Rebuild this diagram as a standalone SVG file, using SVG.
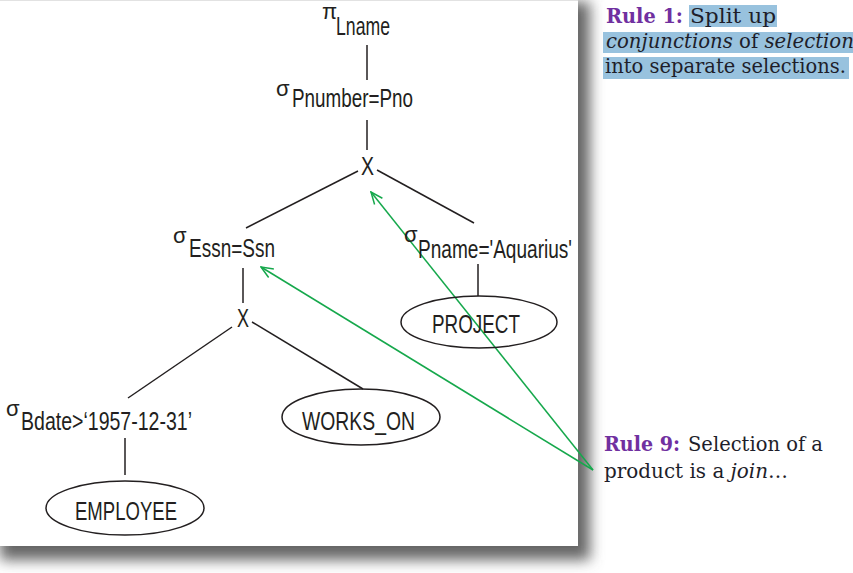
<svg xmlns="http://www.w3.org/2000/svg" width="853" height="573" viewBox="0 0 853 573">
<style>
.t{font-family:"Liberation Sans",Arial,sans-serif;fill:#231f20;font-size:25px}
.g{font-family:"Liberation Sans",Arial,sans-serif;fill:#231f20;font-size:22px}
.e{fill:none;stroke:#231f20;stroke-width:1.5}
.l{stroke:#231f20;stroke-width:1.5;fill:none}
.r{font-family:"DejaVu Serif","Liberation Serif",serif;font-size:19.5px;fill:#1e1e2a}
.rb{font-weight:bold;fill:#7030a0}
.hl{fill:#98c2de}
.arr{stroke:#16a84c;stroke-width:1.5;fill:none}
</style>
<defs>
<filter id="sh" x="-10%" y="-10%" width="120%" height="120%"><feGaussianBlur stdDeviation="7"/></filter>
<marker id="ah" markerWidth="14" markerHeight="12" refX="13" refY="6" orient="auto" markerUnits="userSpaceOnUse"><path d="M1,1 L13,6 L1,11" stroke="#16a84c" stroke-width="1.5" fill="none"/></marker>
</defs>
<rect width="853" height="573" fill="#fff"/>
<rect x="0" y="2" width="590" height="558" fill="#666" filter="url(#sh)"/>
<rect x="0" y="0" width="578" height="546" fill="#fff"/>
<line x1="0" y1="0.5" x2="578" y2="0.5" stroke="#e2e2e2"/>

<g id="connectors">
<line class="l" x1="367" y1="45" x2="367" y2="80"/>
<line class="l" x1="367" y1="120" x2="367" y2="150"/>
<line class="l" x1="358" y1="171" x2="246" y2="228"/>
<line class="l" x1="377" y1="170" x2="474" y2="223"/>
<line class="l" x1="478" y1="264" x2="478" y2="296"/>
<line class="l" x1="243" y1="268" x2="243" y2="303"/>
<line class="l" x1="232" y1="327" x2="128" y2="398"/>
<line class="l" x1="252" y1="322" x2="363" y2="389"/>
<line class="l" x1="125" y1="438" x2="125" y2="475"/>
<line class="arr" x1="593" y1="470" x2="371" y2="192" marker-end="url(#ah)"/>
<line class="arr" x1="593" y1="470" x2="261" y2="267" marker-end="url(#ah)"/>
</g>

<g id="pi_lname">
<text class="g" x="322" y="19">π</text>
<text class="t" x="336" y="35" textLength="54" lengthAdjust="spacingAndGlyphs">Lname</text>
</g>
<g id="sigma_pnumber">
<text class="g" x="276" y="96">σ</text>
<text class="t" x="292" y="107" textLength="121" lengthAdjust="spacingAndGlyphs">Pnumber=Pno</text>
</g>
<g id="x_top">
<text class="t" x="361" y="175" textLength="13" lengthAdjust="spacingAndGlyphs">X</text>
</g>
<g id="sigma_essn">
<text class="g" x="173" y="243">σ</text>
<text class="t" x="189" y="257" textLength="86" lengthAdjust="spacingAndGlyphs">Essn=Ssn</text>
</g>
<g id="sigma_pname">
<text class="g" x="404" y="242">σ</text>
<text class="t" x="418" y="258" textLength="154" lengthAdjust="spacingAndGlyphs">Pname='Aquarius'</text>
</g>
<g id="project">
<ellipse class="e" cx="479" cy="322" rx="78" ry="26"/>
<text class="t" x="432" y="333" textLength="88" lengthAdjust="spacingAndGlyphs">PROJECT</text>
</g>
<g id="x_bottom">
<text class="t" x="237" y="327" textLength="12" lengthAdjust="spacingAndGlyphs">X</text>
</g>
<g id="works_on">
<ellipse class="e" cx="361" cy="417" rx="79" ry="28"/>
<text class="t" x="302" y="430" textLength="113" lengthAdjust="spacingAndGlyphs">WORKS_ON</text>
</g>
<g id="sigma_bdate">
<text class="g" x="6" y="416">σ</text>
<text class="t" x="21" y="430" textLength="171" lengthAdjust="spacingAndGlyphs">Bdate&gt;‘1957-12-31’</text>
</g>
<g id="employee">
<ellipse class="e" cx="125" cy="508" rx="79" ry="27"/>
<text class="t" x="75" y="520" textLength="102" lengthAdjust="spacingAndGlyphs">EMPLOYEE</text>
</g>

<g id="rule1">
<rect class="hl" x="689" y="5" width="88" height="22"/>
<rect class="hl" x="603" y="32" width="250" height="21"/>
<rect class="hl" x="603" y="57" width="246" height="22"/>
<text class="r rb" x="606" y="23" textLength="77" lengthAdjust="spacingAndGlyphs">Rule 1:</text>
<text class="r" x="690" y="23" textLength="86" lengthAdjust="spacingAndGlyphs">Split up</text>
<text class="r" x="606" y="48" textLength="258" lengthAdjust="spacingAndGlyphs"><tspan font-style="italic">conjunctions</tspan> of <tspan font-style="italic">selections</tspan></text>
<text class="r" x="605" y="73" textLength="241" lengthAdjust="spacingAndGlyphs">into separate selections.</text>
</g>
<g id="rule9">
<text class="r rb" x="604" y="451" textLength="76" lengthAdjust="spacingAndGlyphs">Rule 9:</text>
<text class="r" x="688" y="451" textLength="135" lengthAdjust="spacingAndGlyphs">Selection of a</text>
<text class="r" x="604" y="478" textLength="184" lengthAdjust="spacingAndGlyphs">product is a <tspan font-style="italic">join</tspan>…</text>
</g>
</svg>
